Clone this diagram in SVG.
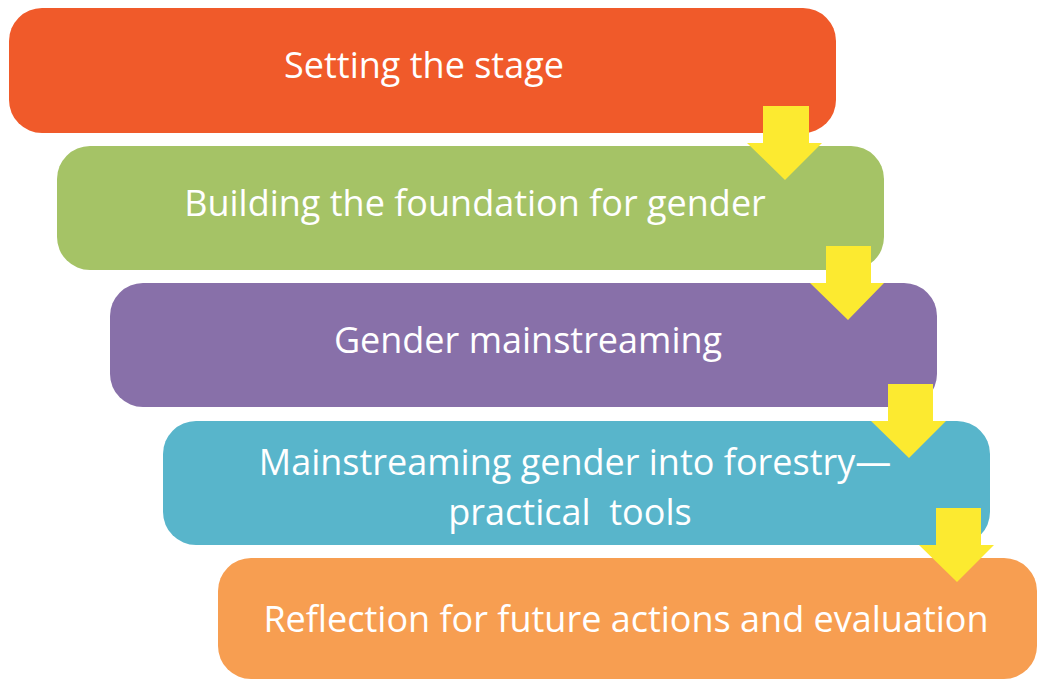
<svg xmlns="http://www.w3.org/2000/svg" width="1037" height="679" viewBox="0 0 1037 679">
<style>
.box{stroke:none}
.t{font-family:"Open Sans","Noto Sans","Liberation Sans",sans-serif;font-size:36px;fill:#ffffff;text-anchor:middle}
.arr{fill:#FCEA30;stroke:none}
</style>
<rect width="1037" height="679" fill="#ffffff"/>
<g id="n1"><rect class="box" x="9" y="8" width="827" height="125" rx="33" fill="#F05A2A"/><text class="t" x="424" y="78">Setting the stage</text></g>
<g id="n2"><rect class="box" x="57" y="146" width="827" height="124" rx="33" fill="#A5C366"/><text class="t" x="475" y="216">Building the foundation for gender</text></g>
<g id="n3"><rect class="box" x="110" y="283" width="827" height="124" rx="33" fill="#8870A9"/><text class="t" x="528" y="353">Gender mainstreaming</text></g>
<g id="n4"><rect class="box" x="163" y="421" width="827" height="124" rx="33" fill="#58B5CB"/><text class="t" x="575" y="475">Mainstreaming gender into forestry—</text><text class="t" x="570" y="525" xml:space="preserve">practical  tools</text></g>
<g id="n5"><rect class="box" x="218" y="558" width="819" height="121" rx="33" fill="#F79E51"/><text class="t" x="626" y="632">Reflection for future actions and evaluation</text></g>
<g id="connectors">
<polygon class="arr" points="763,106 809,106 809,143 822,143 785,180 747,143 763,143"/>
<polygon class="arr" points="826,246 871,246 871,283 884,283 848,320 810,283 826,283"/>
<polygon class="arr" points="888,384 933,384 933,421 946,421 909,458 871,421 888,421"/>
<polygon class="arr" points="936,508 981,508 981,545 994,545 957,582 919,545 936,545"/>
</g>
</svg>
